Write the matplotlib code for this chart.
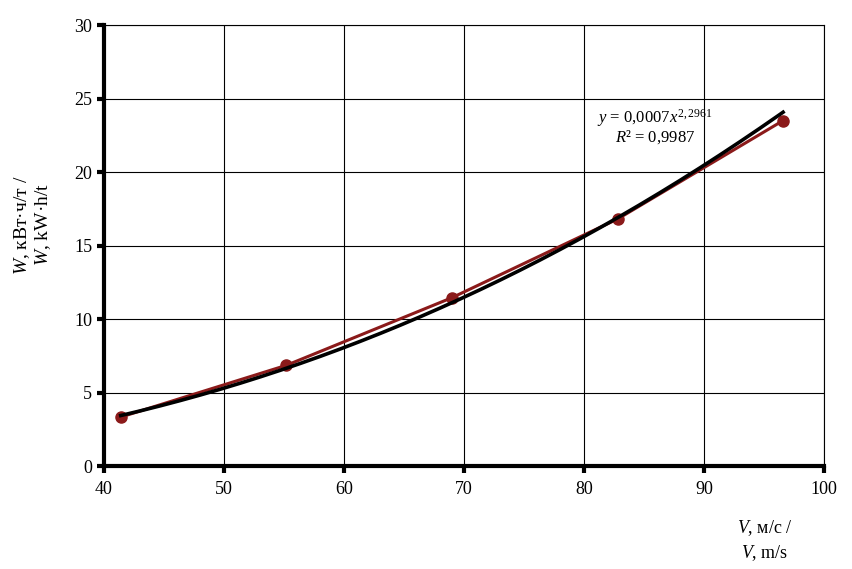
import numpy as np
import matplotlib
matplotlib.use('Agg')
from matplotlib import pyplot as plt

# measured points (speed, m/s ; specific energy, kWh/t)
speed = [41.4, 55.2, 69.0, 82.8, 96.6]
energy = [3.33, 6.85, 11.45, 16.8, 23.5]

x_ticks = [40, 50, 60, 70, 80, 90, 100]
y_ticks = [0, 5, 10, 15, 20, 25, 30]

plt.rcParams['font.family'] = ['Liberation Serif', 'DejaVu Serif']
plt.rcParams['mathtext.fontset'] = 'custom'
plt.rcParams['mathtext.rm'] = 'Liberation Serif'
plt.rcParams['mathtext.it'] = 'Liberation Serif:italic'

# power trendline fitted to the points
b, log_a = np.polyfit(np.log(speed), np.log(energy), 1)
xs = np.linspace(speed[0], speed[-1], 200)
ys = np.exp(log_a) * xs ** b

fig = plt.figure(figsize=(8.52, 5.69), dpi=100)
ax = fig.add_axes([0.122, 0.181, 0.845, 0.775])

ax.plot(speed, energy, color='#8b1a1a', lw=2.2, marker='o', ms=8, zorder=3)
ax.plot(xs, ys, color='black', lw=2.6, zorder=4)

ax.set_xlim(40, 100)
ax.set_ylim(0, 30)
ax.set_xticks(x_ticks)
ax.set_yticks(y_ticks)
ax.grid(True, color='black', lw=0.8)
ax.set_axisbelow(True)
for s in ['left', 'bottom']:
    ax.spines[s].set_linewidth(3)
for s in ['top', 'right']:
    ax.spines[s].set_linewidth(0.8)
ax.tick_params(labelsize=13, width=3, length=5)
ax.tick_params(axis='x', pad=6)

ax.text(85.9, 23.1, r'$y$ = 0,0007$x^{2,2961}$' + '\n' + r'$R$² = 0,9987',
        ha='center', va='center', fontsize=12, linespacing=1.0)

fig.text(0.038, 0.605, r'$W$, кВт·ч/т /' + '\n' + r'$W$, kW·h/t', rotation=90,
         ha='center', va='center', fontsize=14, linespacing=1.1)
fig.text(0.898, 0.05, r'$V$, м/с /' + '\n' + r'$V$, m/s',
         ha='center', va='center', fontsize=13, linespacing=1.3)

fig.savefig('out.png', dpi=100)
